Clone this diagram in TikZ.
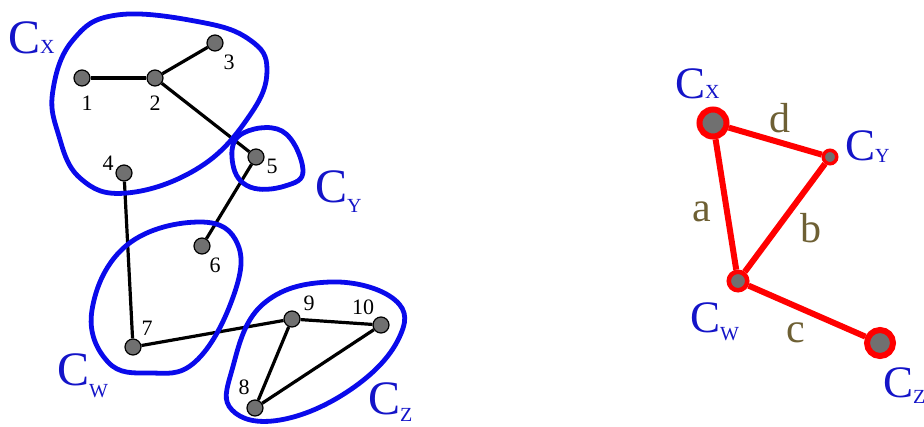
\documentclass[tikz,border=0pt]{standalone}
\usepackage{fontspec}
\setmainfont{Liberation Serif}
\usetikzlibrary{backgrounds}
\definecolor{clusterblue}{RGB}{10,10,235}
\definecolor{labelblue}{RGB}{20,20,200}
\definecolor{vertgray}{RGB}{112,112,112}
\definecolor{edgered}{RGB}{255,0,0}
\definecolor{weightolive}{RGB}{110,96,52}
\newcommand{\clab}[2]{C\raisebox{-#2pt}{\fontsize{20}{20}\selectfont #1}}

\begin{document}
\begin{tikzpicture}[
    x=1pt, y=-1pt,
    vert/.style={circle, draw=black, line width=1.2pt, fill=vertgray,
                 minimum size=16pt, inner sep=0pt},
    num/.style={font=\fontsize{22}{22}\selectfont, inner sep=0pt},
    edge/.style={line width=3.2pt},
    blob/.style={draw=clusterblue, line width=4.8pt},
    clus/.style={anchor=base west, inner sep=0pt, text=labelblue,
                 font=\fontsize{48}{48}\selectfont},
    super/.style={circle, draw=edgered, fill=vertgray, inner sep=0pt},
    superedge/.style={draw=edgered, line width=6pt},
    weight/.style={font=\fontsize{42}{42}\selectfont, text=weightolive, inner sep=0pt}
  ]
  \useasboundingbox (0,0) rectangle (924,426);
  % Left graph: vertices
  \node[vert] (n1) at (82,78) {};
  \node[vert] (n2) at (155,78) {};
  \node[vert] (n3) at (215,43) {};
  \node[vert] (n4) at (124,173) {};
  \node[vert] (n5) at (256,157) {};
  \node[vert] (n6) at (202,246) {};
  \node[vert] (n7) at (133,347) {};
  \node[vert] (n8) at (255,408) {};
  \node[vert] (n9) at (292,319) {};
  \node[vert] (n10) at (381,325) {};
  % Vertex numbers
  \node[num] (t1) at (87,103) {1};
  \node[num] (t2) at (155,103) {2};
  \node[num] (t3) at (229,62) {3};
  \node[num] (t4) at (108,163) {4};
  \node[num] (t5) at (272,166) {5};
  \node[num] (t6) at (215,265) {6};
  \node[num] (t7) at (147,328) {7};
  \node[num] (t8) at (244,387) {8};
  \node[num] (t9) at (309,303) {9};
  \node[num] (t10) at (363,307) {10};
  % Edges and clusters behind the vertices
  \begin{scope}[on background layer]
    \draw[edge] (n1)--(n2);
    \draw[edge] (n2)--(n3);
    \draw[edge] (n2)--(n5);
    \draw[edge] (n5)--(n6);
    \draw[edge] (n4)--(n7);
    \draw[edge] (n7)--(n9);
    \draw[edge] (n9)--(n8);
    \draw[edge] (n9)--(n10);
    \draw[edge] (n8)--(n10);
    \draw[blob] plot[smooth cycle, tension=0.7] coordinates
      {(73,40) (117,15) (200,22) (250,40) (267,70) (250,115) (200,167) (127,193) (80,178) (58,133) (53,90)};
    \draw[blob] plot[smooth cycle, tension=0.7] coordinates
      {(240,135) (282,131) (303,170) (285,186) (250,187) (233,165)};
    \draw[blob] plot[smooth cycle, tension=0.7] coordinates
      {(127,245) (200,222) (238,245) (232,300) (195,362) (150,373) (108,362) (92,310)};
    \draw[blob] plot[smooth cycle, tension=0.7] coordinates
      {(262,305) (330,282) (395,300) (398,340) (350,390) (280,420) (232,410) (232,370)};
  \end{scope}
  % Cluster names
  \node[clus] (lx) at (8,53) {\clab{X}{0}};
  \node[clus] (ly) at (315,202) {\clab{Y}{10}};
  \node[clus] (lw) at (57,385) {\clab{W}{12}};
  \node[clus] (lz) at (368,414) {\clab{Z}{7}};
  % Right graph: contracted clusters
  \node[super, line width=6pt, minimum size=27pt] (cx) at (713,123) {};
  \node[super, line width=3.5pt, minimum size=13.5pt] (cy) at (830,157) {};
  \node[super, line width=4.5pt, minimum size=18.5pt] (cw) at (738,281) {};
  \node[super, line width=6pt, minimum size=26pt] (cz) at (880,343) {};
  \begin{scope}[on background layer]
    \draw[superedge] (cx)--(cy);
    \draw[superedge] (cx)--(cw);
    \draw[superedge] (cy)--(cw);
    \draw[superedge] (cw)--(cz);
  \end{scope}
  \node[weight] (wd) at (780,118) {d};
  \node[weight] (wa) at (702,212) {a};
  \node[weight] (wb) at (811,228) {b};
  \node[weight] (wc) at (796,333) {c};
  \node[clus, font=\fontsize{45}{45}\selectfont] (rx) at (675,98) {\clab{X}{0}};
  \node[clus, font=\fontsize{45}{45}\selectfont] (ry) at (845,160) {\clab{Y}{2}};
  \node[clus, font=\fontsize{45}{45}\selectfont] (rw) at (690,332) {\clab{W}{8}};
  \node[clus, font=\fontsize{45}{45}\selectfont] (rz) at (883,397) {\clab{Z}{6}};
\end{tikzpicture}
\end{document}
